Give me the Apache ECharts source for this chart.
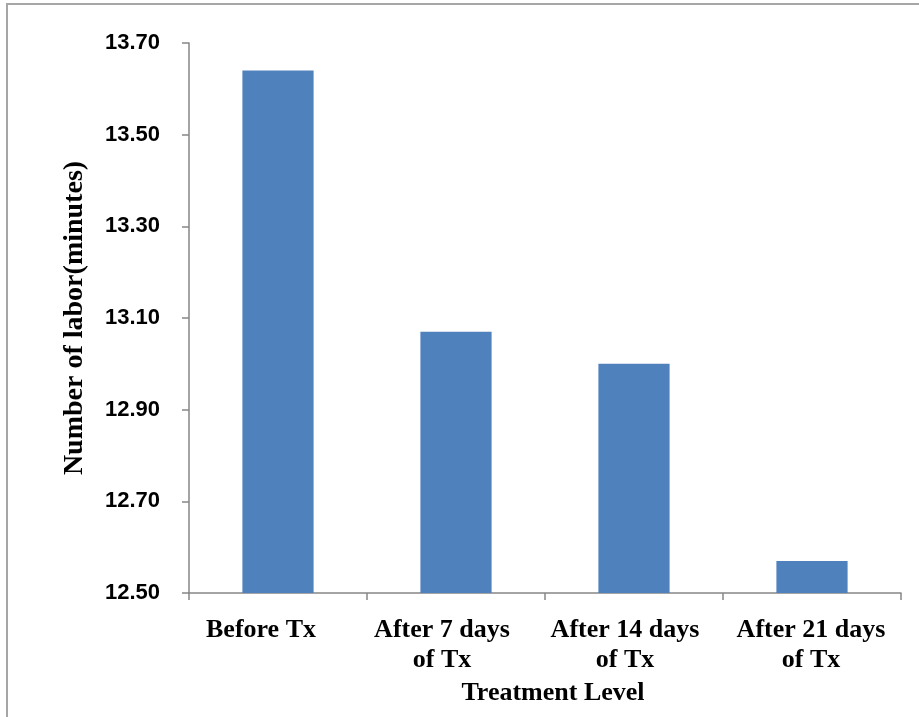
<!DOCTYPE html>
<html>
<head>
<meta charset="utf-8">
<script src="https://cdn.jsdelivr.net/npm/echarts@6/dist/echarts.min.js"></script>
<style>
  html, body { margin: 0; padding: 0; background: #fff; }
  #chart { width: 919px; height: 717px; }
</style>
</head>
<body>
<div id="chart"></div>
<script>
// Treatment stages along the x axis
const categories = ['Before Tx', 'After 7 days\nof Tx', 'After 14 days\nof Tx', 'After 21 days\nof Tx'];
// Mean duration of labor (minutes) for each stage
const laborMinutes = [13.64, 13.07, 13.00, 12.57];
// Value axis range
const yMin = 12.5;
const yMax = 13.7;
const yStep = 0.2;

// Horizontal nudge (px, negative = left) for each category label block
const labelNudge = [-17, -14, -9, -1];

const chart = echarts.init(document.getElementById('chart'), null, { renderer: 'canvas' });

const axisGrey = '#868686';
const serif = '"Liberation Serif", "Times New Roman", serif';
const sans = '"Liberation Sans", Tahoma, Arial, sans-serif';

const categoryItems = categories.map((c, i) => {
  const n = labelNudge[i];
  return {
    value: c,
    textStyle: { padding: n < 0 ? [0, -2 * n, 0, 0] : [0, 0, 0, 2 * n] }
  };
});

chart.setOption({
  animation: false,
  backgroundColor: '#ffffff',
  graphic: [{
    type: 'rect',
    shape: { x: 7, y: 4, width: 1000, height: 1000 },
    style: { fill: 'none', stroke: '#a6a6a6', lineWidth: 2 },
    silent: true
  }],
  grid: { left: 189, right: 18, top: 43, bottom: 124, containLabel: false },
  xAxis: {
    type: 'category',
    data: categoryItems,
    name: 'Treatment Level',
    nameLocation: 'middle',
    nameGap: 86,
    nameTextStyle: { fontFamily: serif, fontWeight: 'bold', fontSize: 26, color: '#000', padding: [0, 0, 0, 16] },
    axisLine: { lineStyle: { color: axisGrey, width: 1.5 } },
    axisTick: { show: true, length: 7, alignWithLabel: false, lineStyle: { color: axisGrey, width: 1.5 } },
    axisLabel: {
      interval: 0,
      margin: 22,
      fontFamily: serif,
      fontWeight: 'bold',
      fontSize: 26,
      lineHeight: 30,
      color: '#000'
    }
  },
  yAxis: {
    type: 'value',
    min: yMin,
    max: yMax,
    interval: yStep,
    name: 'Number of labor(minutes)',
    nameLocation: 'middle',
    nameGap: 100,
    nameRotate: 90,
    nameTextStyle: { fontFamily: serif, fontWeight: 'bold', fontSize: 28, color: '#000' },
    splitLine: { show: false },
    axisLine: { show: true, lineStyle: { color: axisGrey, width: 1.5 } },
    axisTick: { show: true, length: 7, lineStyle: { color: axisGrey, width: 1.5 } },
    axisLabel: {
      margin: 29,
      fontFamily: sans,
      fontWeight: 'bold',
      fontSize: 22,
      color: '#000',
      formatter: v => v.toFixed(2)
    }
  },
  series: [{
    type: 'bar',
    data: laborMinutes,
    barWidth: '40%',
    itemStyle: { color: '#4f81bd' }
  }]
});
</script>
</body>
</html>
